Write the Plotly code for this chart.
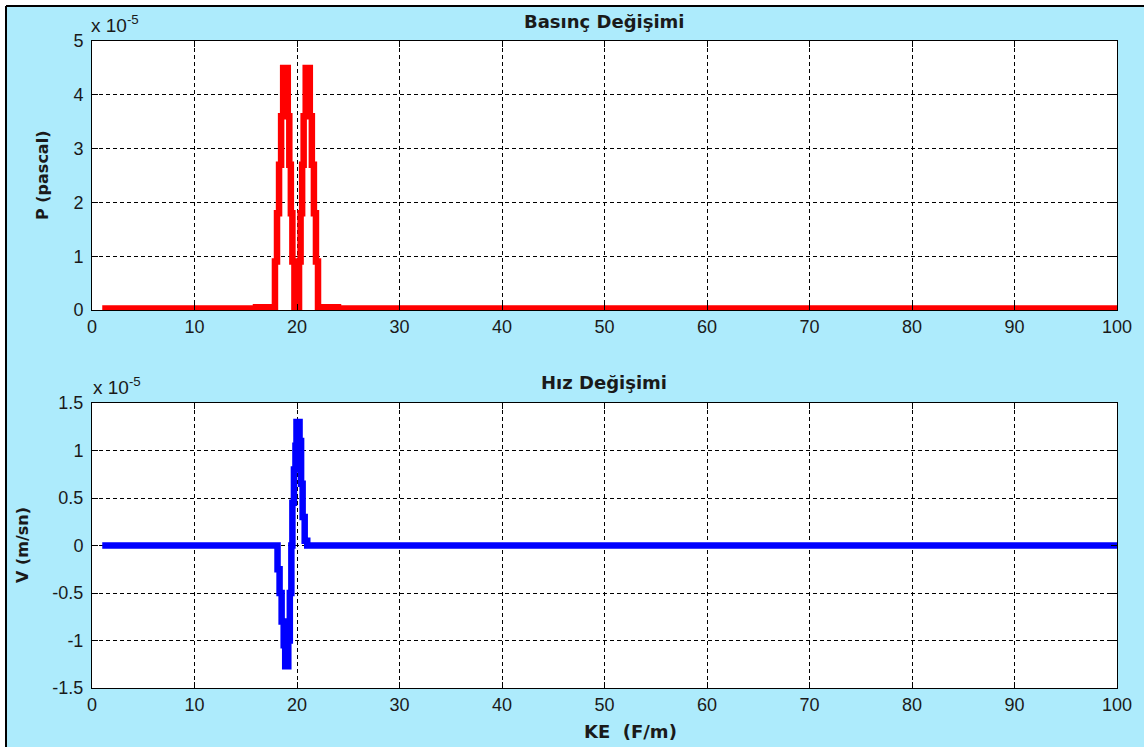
import plotly.graph_objects as go

SCALE = 1e-5

# Pressure (top) – step data, values in units of 1e-5 Pa
P_x = [1, 16.0, 17.85, 18.05, 18.25, 18.45, 18.65, 19.1, 19.25, 19.4, 19.55, 19.75,
       20.2, 20.35, 20.5, 20.65, 20.85, 21.25, 21.45, 21.65, 21.85, 22.05, 24.0, 100]
P_v = [0.03, 0.05, 0.9, 1.8, 2.7, 3.6, 4.5, 3.6, 2.7, 1.8, 0.9, 0.0,
       0.9, 1.8, 2.7, 3.6, 4.5, 3.6, 2.7, 1.8, 0.9, 0.05, 0.03, 0.03]

# Velocity (bottom) – step data, values in units of 1e-5 m/sn
V_x = [1, 18.1, 18.3, 18.5, 18.7, 18.85, 19.15, 19.3, 19.45, 19.55, 19.7,
       19.85, 19.95, 20.25, 20.4, 20.55, 20.75, 21.0, 100]
V_v = [0.0, -0.25, -0.5, -0.8, -1.05, -1.27, -1.0, -0.5, 0.0, 0.45, 0.8,
       1.05, 1.3, 1.1, 0.65, 0.3, 0.05, 0.0, 0.0]

X_TICKS = [0, 10, 20, 30, 40, 50, 60, 70, 80, 90, 100]
P_TICKS = [0, 1, 2, 3, 4, 5]
P_TICKTEXT = ["0", "1", "2", "3", "4", "5"]
V_TICKS = [-1.5, -1, -0.5, 0, 0.5, 1, 1.5]
V_TICKTEXT = ["-1.5", "-1", "-0.5", "0", "0.5", "1", "1.5"]

W, H = 1144, 747
BG = "#ADEBFC"
TICKFONT = dict(family="Liberation Sans, Arial, sans-serif", size=18, color="#1a1a1a")
BOLD = "DejaVu Sans, sans-serif"

fig = go.Figure()
fig.add_trace(go.Scatter(x=P_x, y=[v * SCALE for v in P_v], mode="lines",
                         line=dict(color="#FF0000", width=6.5, shape="hv"),
                         xaxis="x", yaxis="y", showlegend=False))
fig.add_trace(go.Scatter(x=V_x, y=[v * SCALE for v in V_v], mode="lines",
                         line=dict(color="#0000FF", width=6.5, shape="hv"),
                         xaxis="x2", yaxis="y2", showlegend=False))

def px(x):
    return x / W

def py(y):
    return 1 - y / H

xdom = [px(92), px(1117)]
common_x = dict(range=[0, 100], tickvals=X_TICKS, ticks="inside", ticklen=6,
                tickcolor="black", showline=True, linecolor="black", linewidth=1,
                mirror="ticks", showgrid=True, gridcolor="black", gridwidth=1,
                griddash="4px,3px", zeroline=False, tickfont=TICKFONT,
                domain=xdom, automargin=False)
common_y = dict(ticks="inside", ticklen=6, tickcolor="black", showline=True,
                linecolor="black", linewidth=1, mirror="ticks", showgrid=True,
                gridcolor="black", gridwidth=1, griddash="4px,3px", zeroline=False,
                tickfont=TICKFONT, automargin=False, ticklabelstandoff=4)

fig.update_layout(
    width=W, height=H,
    margin=dict(l=0, r=0, t=0, b=0),
    paper_bgcolor=BG, plot_bgcolor="white",
    xaxis=dict(common_x, anchor="y"),
    yaxis=dict(common_y, range=[0, 5 * SCALE],
               tickvals=[t * SCALE for t in P_TICKS], ticktext=P_TICKTEXT,
               domain=[py(310), py(41)], anchor="x"),
    xaxis2=dict(common_x, anchor="y2"),
    yaxis2=dict(common_y, range=[-1.5 * SCALE, 1.5 * SCALE],
                tickvals=[t * SCALE for t in V_TICKS], ticktext=V_TICKTEXT,
                domain=[py(688), py(403)], anchor="x2"),
)

# white edge strips and outer black frame
fig.add_shape(type="rect", xref="paper", yref="paper", x0=0, x1=px(6), y0=0, y1=1,
              fillcolor="white", line=dict(width=0), layer="above")
fig.add_shape(type="rect", xref="paper", yref="paper", x0=0, x1=1, y0=py(6), y1=1,
              fillcolor="white", line=dict(width=0), layer="above")
fig.add_shape(type="line", xref="paper", yref="paper", x0=px(6), x1=px(6), y0=0, y1=py(6),
              line=dict(color="black", width=2), layer="above")
fig.add_shape(type="line", xref="paper", yref="paper", x0=px(6), x1=1, y0=py(6), y1=py(6),
              line=dict(color="black", width=2), layer="above")

DARK = "#1a1a1a"
ann = []
ann.append(dict(text="<b>Basınç Değişimi</b>", x=px(604), y=py(21), xref="paper", yref="paper",
                showarrow=False, xanchor="center", yanchor="middle",
                font=dict(family=BOLD, size=18, color=DARK)))
ann.append(dict(text="<b>Hız Değişimi</b>", x=px(604), y=py(382), xref="paper", yref="paper",
                showarrow=False, xanchor="center", yanchor="middle",
                font=dict(family=BOLD, size=18, color=DARK)))
ann.append(dict(text="x 10<sup>-5</sup>", x=px(89), y=py(24), xref="paper", yref="paper",
                showarrow=False, xanchor="left", yanchor="middle",
                font=dict(family="Liberation Sans, Arial, sans-serif", size=19, color=DARK)))
ann.append(dict(text="x 10<sup>-5</sup>", x=px(91), y=py(386), xref="paper", yref="paper",
                showarrow=False, xanchor="left", yanchor="middle",
                font=dict(family="Liberation Sans, Arial, sans-serif", size=19, color=DARK)))
ann.append(dict(text="<b>P (pascal)</b>", x=px(42), y=py(176), xref="paper", yref="paper",
                showarrow=False, xanchor="center", yanchor="middle", textangle=-90,
                font=dict(family=BOLD, size=16, color=DARK)))
ann.append(dict(text="<b>V (m/sn)</b>", x=px(22), y=py(545), xref="paper", yref="paper",
                showarrow=False, xanchor="center", yanchor="middle", textangle=-90,
                font=dict(family=BOLD, size=16, color=DARK)))
ann.append(dict(text="<b>KE  (F/m)</b>", x=px(630), y=py(731), xref="paper", yref="paper",
                showarrow=False, xanchor="center", yanchor="middle",
                font=dict(family=BOLD, size=18, color=DARK)))
fig.update_layout(annotations=ann)

fig.write_html("out.html", config={"displayModeBar": False},
               post_script="document.body.style.margin='0';document.body.style.overflow='hidden';")
